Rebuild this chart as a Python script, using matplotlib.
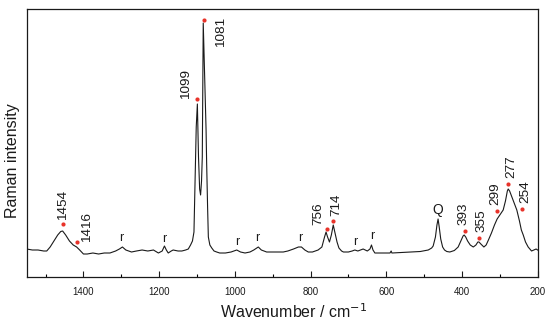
import matplotlib
matplotlib.use("Agg")
import matplotlib.pyplot as plt
from matplotlib.ticker import MultipleLocator

plt.rcParams['font.family'] = ['Liberation Sans', 'DejaVu Sans']

# spectrum (wavenumber, intensity in arbitrary units)
wavenumber = [1550, 1535, 1520, 1505, 1497, 1488, 1478, 1468, 1460, 1455, 1447, 1437,
              1427, 1418, 1410, 1400, 1390, 1375, 1360, 1345, 1330, 1315, 1305, 1297,
              1288, 1273, 1260, 1245, 1230, 1215, 1202, 1192, 1186, 1181, 1176, 1168,
              1163, 1150, 1140, 1130, 1123, 1117, 1112, 1108, 1104, 1102, 1099, 1096,
              1093, 1090.5, 1088, 1086, 1083.5, 1076, 1074.5, 1072, 1070, 1066, 1061,
              1055, 1048, 1040, 1025, 1010, 995, 985, 973, 960, 950, 938, 930, 916,
              900, 885, 872, 860, 845, 832, 824, 815, 806, 795, 780, 770, 763, 759,
              755, 750, 745, 740, 736, 730, 725, 718, 713, 700, 690, 683, 675, 661,
              650, 643, 639, 635, 630, 610, 590, 587, 585, 560, 530, 510, 489, 480,
              476, 470, 466, 463, 460, 456, 451, 446, 440, 432, 420, 410, 403, 397,
              394, 390, 385, 378, 370, 363, 358, 355, 350, 342, 336, 330, 322, 314,
              307, 300, 295, 291, 285, 280, 277.7, 274, 268, 260, 255, 248, 243, 238,
              232, 225, 216, 210, 204, 200]
intensity = [28, 27, 27, 26, 26, 30, 36, 42, 45.5, 46, 42, 36,
             32, 30, 27, 23, 23, 24, 23, 24, 24, 26, 28, 30,
             27, 25, 26, 27, 26, 27, 24, 26, 31, 27, 24, 26,
             27, 26, 26, 27, 28, 32, 36, 45, 114, 150, 173, 120,
             88, 82, 96, 120, 254, 147, 114, 70, 40, 32, 29,
             26, 25, 24, 24, 25, 27, 25, 24, 25, 27, 30, 27, 25,
             25, 25, 25, 26, 28, 30, 30, 27, 25, 25, 27, 30, 40, 45,
             40, 35, 42, 52, 45, 35, 29, 26, 25, 25, 26, 27, 26, 28,
             26, 28, 32, 27, 24, 24, 24, 26, 24, 24.5, 25, 25.5, 27, 29,
             31, 40, 52, 58, 50, 38, 30, 27, 25.5, 25, 26.5, 30, 36, 41,
             42, 40, 36, 32, 30, 32, 35, 35, 33, 30, 32, 37, 44, 52,
             58, 62, 65, 67, 76, 86, 88, 86, 80, 72, 67, 56, 47, 42,
             35, 30, 26, 27, 28, 27]

# marked peaks: dot position and printed label
peak_wn = [1453, 1418, 1099, 1082, 757, 740, 392, 355, 307, 277.7, 242]
peak_int = [52.7, 35, 178, 257, 48, 56, 46.3, 38.7, 66, 93, 68]
peak_text = ['1454', '1416', '1099', '1081', '756', '714', '393', '355', '299', '277', '254']

r_wn = [1299, 1186, 994, 940, 828, 681, 637]
r_int = [36.3, 35, 32, 36.3, 35.7, 32, 38]

q_wn = 463
q_int = 63

# label offsets in pixels (dx, dy) and vertical anchor
label_offsets = [(0, 4, 'bottom'), (10, 0, 'bottom'), (-11.5, 0, 'bottom'), (17, 3, 'top'),
                 (-8.4, 4, 'bottom'), (3.4, 5, 'bottom'), (-1.7, 5.7, 'bottom'),
                 (2.7, 6.6, 'bottom'), (-2, 5.7, 'bottom'), (3.4, 5.7, 'bottom'),
                 (4, 5.7, 'bottom')]

fig = plt.figure(figsize=(5.5, 3.26), dpi=100)
ax = fig.add_axes([0.0485, 0.1503, 0.929, 0.8221])

ax.plot(wavenumber, intensity, color='#1a1a1a', lw=0.8)
ax.plot(peak_wn, peak_int, 'o', color='#e8332a', ms=3, mec='none')

px = 0.72  # pixels -> points at 100 dpi
for x, y, t, (dx, dy, va) in zip(peak_wn, peak_int, peak_text, label_offsets):
    ax.annotate(t, (x, y), xytext=(dx * px, dy * px), textcoords='offset points',
                rotation=90, ha='center', va=va, fontsize=9.7, color='#1a1a1a')

for x, y in zip(r_wn, r_int):
    ax.text(x, y, 'r', ha='center', va='baseline', fontsize=9, color='#1a1a1a')
ax.text(q_wn, q_int, 'Q', ha='center', va='baseline', fontsize=10, color='#1a1a1a')

ax.set_xlim(1550, 200)
ax.set_ylim(0, 268)
ax.xaxis.set_major_locator(MultipleLocator(200))
ax.xaxis.set_minor_locator(MultipleLocator(100))
ax.tick_params(axis='x', which='major', direction='in', length=4.2, width=0.8,
               labelsize=7, pad=7, colors='#1a1a1a')
ax.tick_params(axis='x', which='minor', direction='in', length=2.4, width=0.8)
ax.set_yticks([])
for s in ax.spines.values():
    s.set_linewidth(0.9)
    s.set_color('#1a1a1a')

ax.set_xlabel('Wavenumber / cm$^{-1}$', fontsize=11.5, color='#1a1a1a')
ax.set_ylabel('Raman intensity', fontsize=11.5, color='#1a1a1a')
ax.xaxis.set_label_coords(0.523, -0.095)
ax.yaxis.set_label_coords(-0.013, 0.433)

fig.savefig('out.png', dpi=100)
